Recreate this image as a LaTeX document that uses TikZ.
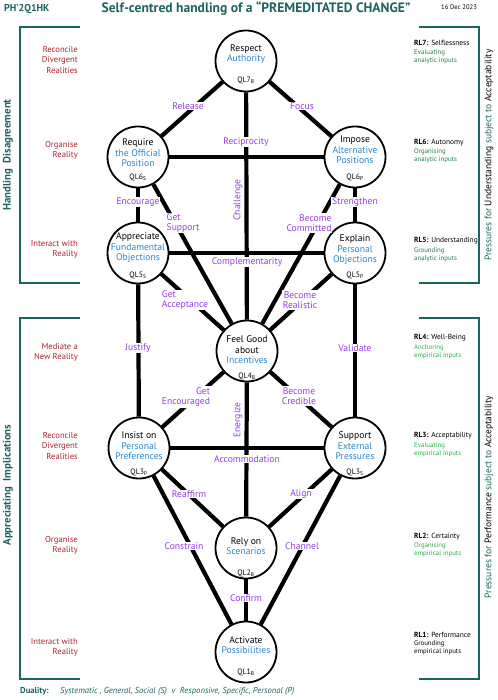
\documentclass[tikz,border=0pt]{standalone}
\usepackage{fontspec}
\setmainfont{PT Sans}
\pgfdeclarelayer{bg}
\pgfsetlayers{bg,main}
\definecolor{teal1}{RGB}{28,100,95}
\definecolor{redl}{RGB}{170,35,45}
\definecolor{purp}{RGB}{150,60,230}
\definecolor{bluel}{RGB}{40,135,205}
\definecolor{agreen}{RGB}{35,125,75}
\definecolor{egreen}{RGB}{40,175,70}
\begin{document}
\begin{tikzpicture}[x=1pt,y=-1pt,
  ql/.style={circle,draw,line width=1.8pt,minimum size=61pt,inner sep=0pt,fill=white},
  conn/.style={line width=4.2pt},
  brk/.style={draw=teal1,line width=2pt},
  lbl/.style={fill=white,text=purp,font=\fontsize{9.6}{10.2}\selectfont,inner sep=1pt,align=center},
  vlbl/.style={lbl,rotate=90},
  qt/.style={align=center,font=\fontsize{9.6}{10.5}\selectfont,inner sep=0pt},
  qn/.style={font=\fontsize{7.8}{8}\selectfont,inner sep=0pt},
  redlbl/.style={text=redl,align=right,anchor=east,font=\fontsize{8.6}{10.2}\selectfont,inner sep=0pt},
  rlh/.style={anchor=west,font=\fontsize{7.4}{8}\selectfont,inner sep=0pt},
  rlg/.style={anchor=west,align=left,font=\fontsize{6.8}{7.6}\selectfont,inner sep=0pt},
  sidelbl/.style={rotate=90,text=teal1,font=\bfseries\fontsize{10.8}{12}\selectfont,inner sep=0pt},
  sidelbr/.style={rotate=90,text=teal1,font=\fontsize{9.5}{11}\selectfont,inner sep=0pt}]
\useasboundingbox (0,0) rectangle (497,700);

% header
\node[anchor=west,text=teal1,font=\bfseries\fontsize{10}{12}\selectfont,inner sep=0pt] (code) at (4,9) {PH’2Q1HK};
\node[text=teal1,font=\bfseries\fontsize{13.6}{16}\selectfont,inner sep=0pt] (title) at (256,9) {Self-centred handling of a “PREMEDITATED CHANGE”};
\node[anchor=west,font=\fontsize{6.6}{8}\selectfont,inner sep=0pt] (date) at (441,7) {16 Dec 2023};

% brackets
\draw[brk] (80,27) -- (20,27) -- (20,283) -- (80,283);
\draw[brk] (80,318) -- (20,318) -- (20,679) -- (80,679);
\draw[brk] (419,27) -- (479,27) -- (479,283) -- (419,283);
\draw[brk] (419,318) -- (479,318) -- (479,679) -- (419,679);

\node[sidelbl] (hd) at (8,155) {Handling\ \ Disagreement};
\node[sidelbl] (ai) at (8,485) {Appreciating\ \ Implications};
\node[sidelbr] (pu) at (489,155) {Pressures for \textcolor{black}{Understanding} subject to \textcolor{black}{Acceptability}};
\node[sidelbr] (pp) at (489,497) {Pressures for \textcolor{black}{Performance} subject to \textcolor{black}{Acceptability}};

% circles
\node[ql] (q7) at (246,61) {};
\node[ql] (q6s) at (138,157) {};
\node[ql] (q6p) at (355,157) {};
\node[ql] (q5s) at (138,253) {};
\node[ql] (q5p) at (355,253) {};
\node[ql] (q4) at (247,351) {};
\node[ql] (q3p) at (139,448) {};
\node[ql] (q3s) at (355,448) {};
\node[ql] (q2) at (246,548) {};
\node[ql] (q1) at (246,652) {};

% connectors
\begin{pgfonlayer}{bg}
\draw[conn] (q7) -- (q6s);
\draw[conn] (q7) -- (q6p);
\draw[conn] (q7) -- (q4);
\draw[conn] (q6s) -- (q6p);
\draw[conn] (q5s) -- (q5p);
\draw[conn] (q6s) -- (q5s);
\draw[conn] (q6p) -- (q5p);
\draw[conn] (q6s) -- (q4);
\draw[conn] (q6p) -- (q4);
\draw[conn] (q5s) -- (q4);
\draw[conn] (q5p) -- (q4);
\draw[conn] (q5s) -- (q3p);
\draw[conn] (q5p) -- (q3s);
\draw[conn] (q4) -- (q3p);
\draw[conn] (q4) -- (q3s);
\draw[conn] (q4) -- (q2);
\draw[conn] (q3p) -- (q3s);
\draw[conn] (q3p) -- (q2);
\draw[conn] (q3s) -- (q2);
\draw[conn] (q3p) -- (q1);
\draw[conn] (q3s) -- (q1);
\draw[conn] (q2) -- (q1);
\end{pgfonlayer}

% connector labels
\node[lbl] (lrel) at (188,106) {Release};
\node[lbl] (lfoc) at (302,106) {Focus};
\node[lbl] (lrec) at (246,142) {Reciprocity};
\node[vlbl] (lcha) at (238,200) {Challenge};
\node[lbl] (lenc) at (138,202) {Encourage};
\node[lbl] (lstr) at (355,202) {Strengthen};
\node[lbl,align=left] (lgs) at (183,223) {Get\\Support};
\node[lbl,align=right] (lbc) at (309,223) {Become\\Committed};
\node[lbl] (lcom) at (247,262) {Complementarity};
\node[lbl,align=left] (lga) at (185,300) {Get\\Acceptance};
\node[lbl] (lbr) at (300,300) {Become\\Realistic};
\node[lbl] (ljus) at (138,348) {Justify};
\node[lbl] (lval) at (355,348) {Validate};
\node[lbl,align=right] (lge) at (186,397) {Get\\Encouraged};
\node[lbl] (lbcr) at (299,396) {Become\\Credible};
\node[vlbl] (lene) at (238,420) {Energize};
\node[lbl] (lacc) at (247,459) {Accommodation};
\node[lbl] (lrea) at (189,494) {Reaffirm};
\node[lbl] (lali) at (301,494) {Align};
\node[lbl] (lcon) at (184,546) {Constrain};
\node[lbl] (lcha2) at (302,546) {Channel};
\node[lbl] (lcnf) at (246,598) {Confirm};

% circle texts
\node[qt] (t7) at (246,54) {Respect\\\textcolor{bluel}{Authority}};
\node[qn] (n7) at (246,80) {QL7\textsubscript{B}};
\node[qt] (t6s) at (138,153) {Require\\\textcolor{bluel}{the Official}\\\textcolor{bluel}{Position}};
\node[qn] (n6s) at (138,177) {QL6\textsubscript{S}};
\node[qt] (t6p) at (355,150) {Impose\\\textcolor{bluel}{Alternative}\\\textcolor{bluel}{Positions}};
\node[qn] (n6p) at (355,177) {QL6\textsubscript{P}};
\node[qt] (t5s) at (138,248) {Appreciate\\\textcolor{bluel}{Fundamental}\\\textcolor{bluel}{Objections}};
\node[qn] (n5s) at (138,275) {QL5\textsubscript{S}};
\node[qt] (t5p) at (355,250) {Explain\\\textcolor{bluel}{Personal}\\\textcolor{bluel}{Objections}};
\node[qn] (n5p) at (355,275) {QL5\textsubscript{P}};
\node[qt] (t4) at (247,350) {Feel Good\\about\\\textcolor{bluel}{Incentives}};
\node[qn] (n4) at (247,376) {QL4\textsubscript{B}};
\node[qt] (t3p) at (139,446) {Insist on\\\textcolor{bluel}{Personal}\\\textcolor{bluel}{Preferences}};
\node[qn] (n3p) at (139,472) {QL3\textsubscript{P}};
\node[qt] (t3s) at (355,446) {Support\\\textcolor{bluel}{External}\\\textcolor{bluel}{Pressures}};
\node[qn] (n3s) at (355,472) {QL3\textsubscript{S}};
\node[qt] (t2) at (246,546) {Rely on\\\textcolor{bluel}{Scenarios}};
\node[qn] (n2) at (246,573) {QL2\textsubscript{B}};
\node[qt] (t1) at (246,645) {Activate\\\textcolor{bluel}{Possibilities}};
\node[qn] (n1) at (246,672) {QL1\textsubscript{B}};

% left red labels
\node[redlbl] (r1) at (78,60) {Reconcile\\Divergent\\Realities};
\node[redlbl] (r2) at (78,150) {Organise\\Reality};
\node[redlbl] (r3) at (78,249) {Interact with\\Reality};
\node[redlbl] (r4) at (78,352) {Mediate a\\New Reality};
\node[redlbl] (r5) at (78,446) {Reconcile\\Divergent\\Realities};
\node[redlbl] (r6) at (78,545) {Organise\\Reality};
\node[redlbl] (r7) at (78,647) {Interact with\\Reality};

% right RL labels
\node[rlh] (h7) at (414,43) {\textbf{RL7:} Selflessness};
\node[rlg,text=agreen] (g7) at (414,57) {Evaluating\\analytic inputs};
\node[rlh] (h6) at (414,143) {\textbf{RL6:} Autonomy};
\node[rlg,text=agreen] (g6) at (414,156) {Organising\\analytic inputs};
\node[rlh] (h5) at (414,241) {\textbf{RL5:} Understanding};
\node[rlg,text=agreen] (g5) at (414,255) {Grounding\\analytic inputs};
\node[rlh] (h4) at (414,338) {\textbf{RL4:} Well-Being};
\node[rlg,text=egreen] (g4) at (414,352) {Anchoring\\empirical inputs};
\node[rlh] (h3) at (414,436) {\textbf{RL3:} Acceptability};
\node[rlg,text=egreen] (g3) at (414,450) {Evaluating\\empirical inputs};
\node[rlh] (h2) at (414,537) {\textbf{RL2:} Certainty};
\node[rlg,text=egreen] (g2) at (414,550) {Organising\\empirical inputs};
\node[rlh] (h1) at (414,635) {\textbf{RL1:} Performance};
\node[rlg] (g1) at (414,648) {Grounding\\empirical inputs};

% duality
\node[anchor=west,text=teal1,font=\bfseries\fontsize{8.6}{10}\selectfont,inner sep=0pt] (dua) at (20,691) {Duality:};
\node[anchor=west,text=teal1,font=\itshape\fontsize{8.6}{10}\selectfont,inner sep=0pt] (duat) at (60,691) {Systematic , General, Social (S)\ \ v\ \ Responsive, Specific, Personal (P)};
\end{tikzpicture}
\end{document}
